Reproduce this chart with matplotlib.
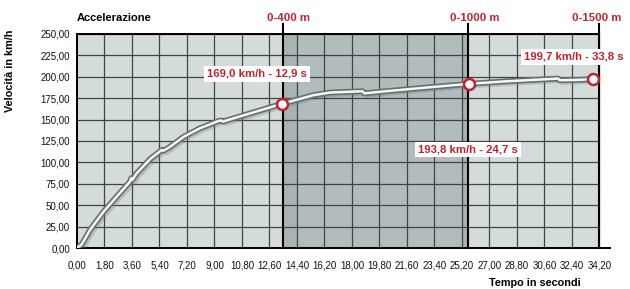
import matplotlib
matplotlib.use("Agg")
import matplotlib.pyplot as plt
import matplotlib.patheffects as pe
import numpy as np

# ---- data ----
time_s = [0, 0.3, 0.85, 1.72, 2.6, 3.47, 3.55, 3.62, 3.9, 4.8, 5.55, 5.65, 6.0,
          7.0, 8.05, 9.3, 9.45, 9.55, 11.3, 13.45, 15.5, 16.6, 18.7, 18.8,
          20.5, 23.0, 25.65, 28.0, 31.5, 31.6, 33.0, 33.8]
speed_kmh = [0, 4, 21, 42, 60, 77.5, 81.5, 79.5, 87, 104, 114.5, 113.5, 117,
             130, 139.8, 148.5, 148.8, 147.6, 157, 168.5, 178.5, 181.5, 183, 180.5,
             183.5, 187.5, 191.6, 194.5, 197.8, 195.8, 196.4, 197.3]

x_ticks = [round(1.8 * i, 2) for i in range(20)]
y_ticks = list(range(0, 251, 25))

mark_t = [13.45, 25.65, 33.8]
mark_v = [168.5, 191.6, 197.3]
mark_labels = ["169,0 km/h - 12,9 s", "193,8 km/h - 24,7 s", "199,7 km/h - 33,8 s"]
dist_t = [13.46, 25.62, 34.2]
dist_labels = ["0-400 m", "0-1000 m", "0-1500 m"]

RED = "#c0222e"
FONT = ["Liberation Sans", "DejaVu Sans"]

fig = plt.figure(figsize=(6.3, 2.89), dpi=100)
ax = fig.add_axes([77/630, 41/289, 533/630, 215/289])
ax.set_xlim(0, 34.9)
ax.set_ylim(0, 251)
ax.set_facecolor("white")

# backgrounds
ax.axvspan(0, x_ticks[-1], color="#d4dbdb", zorder=0, lw=0)
ax.axvspan(dist_t[0], dist_t[1], color="#b3bcbd", zorder=0.1, lw=0)
ax.axvspan(dist_t[0], 14.4, color="#a9b3b4", zorder=0.2, lw=0)
ax.axvspan(25.2, dist_t[1], color="#a9b2b3", zorder=0.2, lw=0)

# grid
for xt in x_ticks[1:]:
    ax.plot([xt, xt], [0, 250], color="#3e4546", lw=0.9, zorder=1)
for yt in y_ticks[1:]:
    ax.plot([0, x_ticks[-1]], [yt, yt], color="#3e4546", lw=0.9, zorder=1)

# frame lines
ax.plot([0, x_ticks[-1]], [250, 250], color="black", lw=1.4, zorder=2)
for spine in ["top", "right"]:
    ax.spines[spine].set_visible(False)
ax.spines["left"].set_linewidth(1.4)
ax.spines["bottom"].set_linewidth(1.4)
ax.spines["left"].set_bounds(0, 250)

# distance lines
for t in dist_t:
    ax.plot([t, t], [0, 261], color="black", lw=1.5, zorder=2, clip_on=False)

# curve
ax.plot(np.array(time_s) + 0.15, np.array(speed_kmh) - 2, color="#6d7676", lw=4,
        alpha=0.3, zorder=3, solid_capstyle="round")
ax.plot(time_s, speed_kmh, color="#f4f7f7", lw=1.8, zorder=4,
        solid_joinstyle="round",
        path_effects=[pe.Stroke(linewidth=4.2, foreground="#66706f"), pe.Normal()])

# markers
ax.scatter(mark_t, mark_v, s=62, facecolor="white", edgecolor=RED, linewidth=1.8, zorder=5)

# marker labels
label_pos = [(11.78, 203.5, "center"), (25.6, 115, "center"), (35.8, 223, "right")]
for lab, (lx, ly, ha) in zip(mark_labels, label_pos):
    ax.text(lx, ly, lab, color=RED, fontsize=8.2, fontweight="bold", family=FONT,
            ha=ha, va="center", zorder=6, clip_on=False,
            bbox=dict(boxstyle="square,pad=0.25", facecolor="white", edgecolor="none"))

# distance labels
for t, lab in zip(dist_t, dist_labels):
    ax.text(t + 0.4 if t < 34 else t - 0.15, 268, lab, color=RED, fontsize=8.2,
            fontweight="bold", family=FONT, ha="center", va="center", clip_on=False)

ax.text(0, 268, "Accelerazione", color="black", fontsize=8, fontweight="bold",
        family=FONT, ha="left", va="center", clip_on=False)

# ticks
ax.set_xticks(x_ticks)
ax.set_xticklabels([f"{v:.2f}".replace(".", ",") for v in x_ticks])
ax.set_yticks(y_ticks)
ax.set_yticklabels([f"{v:.2f}".replace(".", ",") for v in y_ticks])
ax.tick_params(length=0, labelsize=7, colors="#111111")
ax.tick_params(axis="x", pad=9)
ax.tick_params(axis="y", pad=5)
for lbl in ax.get_xticklabels() + ax.get_yticklabels():
    lbl.set_family(FONT)

fig.text(10/630, 1 - 71/289, "Velocità in km/h", rotation=90, fontsize=7.8,
         fontweight="bold", family=FONT, ha="center", va="center")
fig.text(535/630, 1 - 283/289, "Tempo in secondi", fontsize=7.8,
         fontweight="bold", family=FONT, ha="center", va="center")

fig.savefig("out.png", dpi=100)
